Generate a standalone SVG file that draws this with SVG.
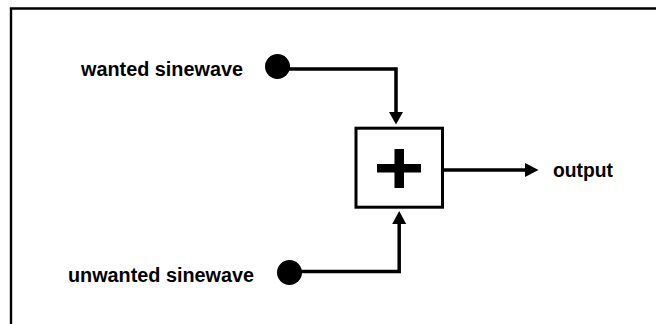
<svg xmlns="http://www.w3.org/2000/svg" width="656" height="324" viewBox="0 0 656 324">
<style>
.lbl{font-family:"Liberation Sans",Arial,sans-serif;font-weight:bold;font-size:19.5px;fill:#000}
.wire{fill:none;stroke:#000;stroke-width:3.5}
</style>
<rect x="0" y="0" width="656" height="324" fill="#fff"/>
<path d="M11 330 V8.5 H660" fill="none" stroke="#000" stroke-width="2.4"/>
<g id="wanted">
<circle cx="277.5" cy="66.5" r="12.5" fill="#000"/>
<text class="lbl" x="81" y="75.5" textLength="162" lengthAdjust="spacingAndGlyphs">wanted sinewave</text>
</g>
<g id="unwanted">
<circle cx="289.5" cy="272.5" r="12.5" fill="#000"/>
<text class="lbl" x="68" y="281.5" textLength="186" lengthAdjust="spacingAndGlyphs">unwanted sinewave</text>
</g>
<g id="adder">
<rect x="356" y="128.2" width="86.5" height="79" fill="#fff" stroke="#000" stroke-width="3"/>
<rect x="377" y="164" width="44" height="8.5" fill="#000"/>
<rect x="394.5" y="149" width="9.5" height="39" fill="#000"/>
</g>
<g id="output">
<text class="lbl" x="553" y="177" textLength="60" lengthAdjust="spacingAndGlyphs">output</text>
</g>
<g id="connectors">
<path class="wire" d="M285 69 H396 V113"/>
<polygon points="389,112 403,112 396,124.5" fill="#000"/>
<path class="wire" d="M297 271.5 H399.2 V223"/>
<polygon points="392.2,224 406.2,224 399.2,211" fill="#000"/>
<path class="wire" d="M444 170 H526"/>
<polygon points="525,163 525,177 538.5,170" fill="#000"/>
</g>
</svg>
